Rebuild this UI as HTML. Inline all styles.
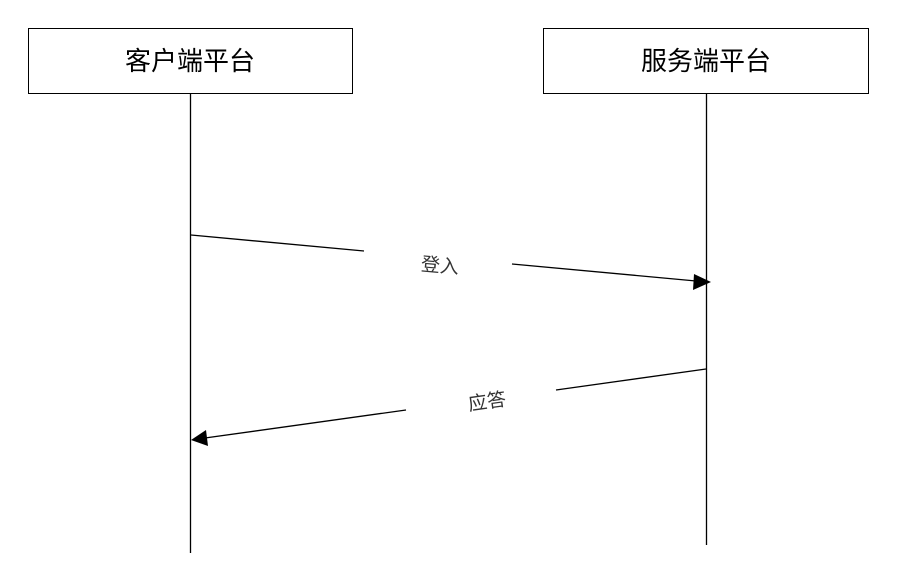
<!DOCTYPE html>
<html><head><meta charset="utf-8"><style>
html,body{margin:0;padding:0;background:#fff;width:900px;height:567px;overflow:hidden}
</style></head><body>
<svg width="900" height="567" xmlns="http://www.w3.org/2000/svg" style="position:absolute;left:0;top:0">
<rect x="28.5" y="28.5" width="324" height="65" fill="#fff" stroke="#000" stroke-width="1"/>
<rect x="543.5" y="28.5" width="325" height="65" fill="#fff" stroke="#000" stroke-width="1"/>
<text x="190" y="70" font-size="26" text-anchor="middle" font-family="'Liberation Sans','Noto Sans CJK SC',sans-serif" fill="#000">客户端平台</text>
<text x="706" y="70" font-size="26" text-anchor="middle" font-family="'Liberation Sans','Noto Sans CJK SC',sans-serif" fill="#000">服务端平台</text>
<line x1="190.5" y1="94" x2="190.5" y2="553" stroke="#000" stroke-width="1.3"/>
<line x1="706.5" y1="94" x2="706.5" y2="545" stroke="#000" stroke-width="1.3"/>
<line x1="191" y1="235" x2="364" y2="251" stroke="#000" stroke-width="1.3"/>
<line x1="512" y1="264" x2="696" y2="281" stroke="#000" stroke-width="1.3"/>
<polygon points="711,282 694,274 693,290" fill="#000"/>
<text x="440" y="272" font-size="19" text-anchor="middle" font-family="'Liberation Sans','Noto Sans CJK SC',sans-serif" fill="#333" transform="rotate(5 440 265)">登入</text>
<line x1="706" y1="369" x2="556" y2="390" stroke="#000" stroke-width="1.3"/>
<line x1="406" y1="410" x2="205" y2="438" stroke="#000" stroke-width="1.3"/>
<polygon points="191,440 206,430 208,446" fill="#000"/>
<text x="487" y="408" font-size="19" text-anchor="middle" font-family="'Liberation Sans','Noto Sans CJK SC',sans-serif" fill="#333" transform="rotate(-8 487 401)">应答</text>
</svg>
</body></html>
